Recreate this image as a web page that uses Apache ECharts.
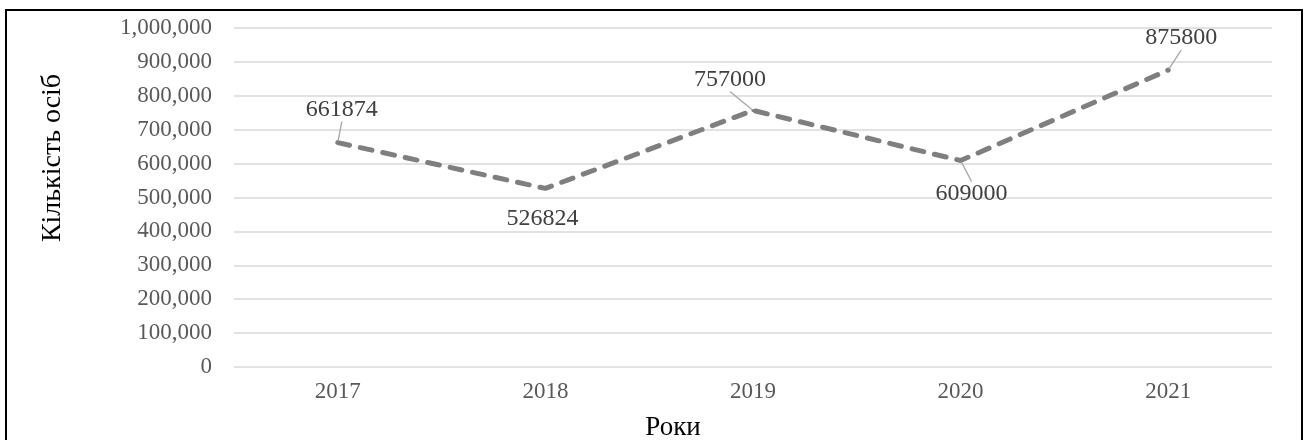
<!DOCTYPE html>
<html>
<head>
<meta charset="utf-8">
<script src="https://cdn.jsdelivr.net/npm/echarts@6/dist/echarts.min.js"></script>
<style>
  html, body { margin: 0; padding: 0; background: #fff; }
  #main { width: 1308px; height: 440px; }
</style>
</head>
<body>
<div id="main"></div>
<script>
// дані графіка
var years = ["2017", "2018", "2019", "2020", "2021"];
var persons = [661874, 526824, 757000, 609000, 875800];
var yTicks = [0, 100000, 200000, 300000, 400000, 500000, 600000, 700000, 800000, 900000, 1000000];

// зсув підписів відносно точок
var labelShift = [[4, -33], [-3, 30], [-23, -31], [11, 33], [13, -32]];
var withLeader = [true, false, true, true, true];

var FONT = "Liberation Serif";
var chartDom = document.getElementById("main");
var myChart = echarts.init(chartDom);

var seriesData = persons.map(function (v, i) {
  return { value: v, labelLine: { show: withLeader[i] } };
});

var option = {
  animation: false,
  grid: { left: 234, right: 36, top: 28, bottom: 73 },
  xAxis: {
    type: "category",
    data: years,
    boundaryGap: true,
    axisLine: { show: false },
    axisTick: { show: false },
    axisLabel: { color: "#595959", fontFamily: FONT, fontSize: 23, margin: 13 }
  },
  yAxis: {
    type: "value",
    min: yTicks[0],
    max: yTicks[yTicks.length - 1],
    interval: yTicks[1] - yTicks[0],
    axisLine: { show: false },
    axisTick: { show: false },
    splitLine: { lineStyle: { color: "#d9d9d9", width: 1.5 } },
    axisLabel: {
      color: "#595959", fontFamily: FONT, fontSize: 23, margin: 22,
      formatter: function (v) { return v.toLocaleString("en-US"); }
    }
  },
  graphic: [
    {
      type: "rect", silent: true,
      shape: { x: 6, y: 10, width: 1296, height: 440 },
      style: { fill: "none", stroke: "#000", lineWidth: 2 }
    },
    {
      type: "text", x: 53, y: 158, rotation: Math.PI / 2,
      style: {
        text: "Кількість осіб", fill: "#000", font: "28px " + FONT,
        align: "center", verticalAlign: "middle"
      }
    },
    {
      type: "text", x: 673, y: 428,
      style: {
        text: "Роки", fill: "#000", font: "27px " + FONT,
        align: "center", verticalAlign: "middle"
      }
    }
  ],
  series: [
    {
      type: "line",
      data: seriesData,
      symbol: "circle",
      symbolSize: 3,
      itemStyle: { color: "#7f7f7f" },
      lineStyle: { color: "#7f7f7f", width: 5, type: [12, 11], cap: "round" },
      label: {
        show: true,
        position: "inside",
        color: "#404040",
        fontFamily: FONT,
        fontSize: 24
      },
      labelLine: { show: true, lineStyle: { color: "#a6a6a6", width: 1.3 } },
      labelLayout: function (params) {
        var s = labelShift[params.dataIndex];
        return { dx: s[0], dy: s[1] };
      }
    }
  ]
};

option && myChart.setOption(option);
</script>
</body>
</html>
